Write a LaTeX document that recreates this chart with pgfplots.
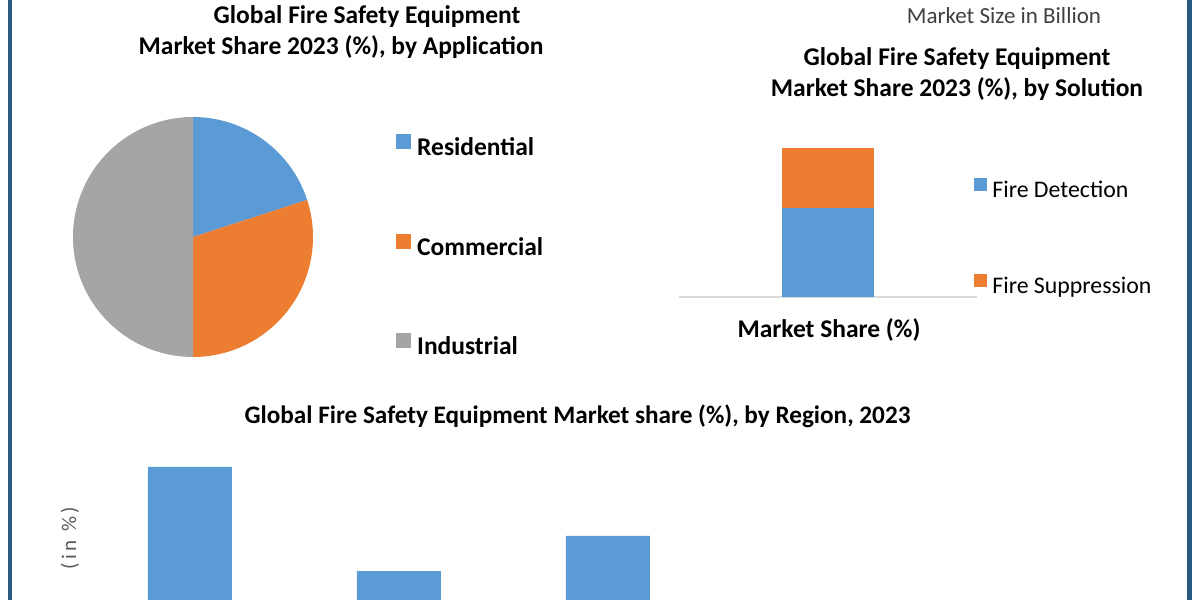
\documentclass[border=0pt]{standalone}
\usepackage{fontspec}
\setmainfont{Carlito}
\usepackage{pgfplots}
\pgfplotsset{compat=1.18}
\usepackage{pgfplotstable}
\definecolor{cblue}{HTML}{5B9BD5}
\definecolor{corange}{HTML}{ED7D31}
\definecolor{cgray}{HTML}{A5A5A5}
\definecolor{cborder}{HTML}{2A5A82}

% Region shares (%)
\pgfplotstableread{
x val
0 41.4
1 16.5
2 24.9
3 8.1
4 9.1
}\regiontable

\newcommand{\tfont}{\fontsize{12.75}{15}\selectfont\bfseries}

\begin{document}
\begin{tikzpicture}[x=1pt,y=1pt]
\path[use as bounding box] (0,0) rectangle (600,300);
\clip (0,0) rectangle (600,300);
\fill[white] (0,0) rectangle (600,300);
\fill[cborder] (4,0) rectangle (6,300);
\fill[cborder] (593.5,0) rectangle (596,300);

% ---------- Pie: by Application ----------
\begin{axis}[at={(96.5pt,181.5pt)}, anchor=center, scale only axis,
  width=120pt, height=120pt, hide axis,
  xmin=-1, xmax=1, ymin=-1, ymax=1, clip=false,
  legend cell align=left,
  legend style={at={(1.3458,0.456)}, anchor=west, draw=none, fill=none,
    font=\tfont, inner sep=0pt, row sep=36pt, column sep=3pt,
    nodes={inner sep=0pt, text height=9pt, text depth=3pt}},
  legend image code/.code={\fill[#1] (0pt,0.5pt) rectangle (7pt,7.5pt);}]
\fill[cblue]   (axis cs:0,0) -- ++(90:60pt) arc[start angle=90, delta angle=-3.6*20, radius=60pt] -- cycle;
\fill[corange] (axis cs:0,0) -- ++(90-3.6*20:60pt) arc[start angle=90-3.6*20, delta angle=-3.6*30, radius=60pt] -- cycle;
\fill[cgray]   (axis cs:0,0) -- ++(90-3.6*50:60pt) arc[start angle=90-3.6*50, delta angle=-3.6*50, radius=60pt] -- cycle;
\addlegendimage{cblue}\addlegendentry{Residential}
\addlegendimage{corange}\addlegendentry{Commercial}
\addlegendimage{cgray}\addlegendentry{Industrial}
\end{axis}

% ---------- Stacked bar: by Solution ----------
\begin{axis}[at={(339.5pt,151.5pt)}, anchor=south west, scale only axis,
  width=149pt, height=74.5pt, xmin=-1, xmax=1, ymin=0, ymax=100,
  ybar stacked, bar width=46pt,
  axis x line=bottom, axis y line=none,
  axis line style={-}, x axis line style={draw=black!15, line width=0.6pt},
  xtick=\empty, ytick=\empty, clip=false,
  legend cell align=left,
  legend style={at={(0.9899,0.3926)}, anchor=west, draw=none, fill=none,
    font=\fontsize{11.9}{14}\selectfont, inner sep=0pt, row sep=35.5pt, column sep=2.5pt,
    nodes={inner sep=0pt, text height=9pt, text depth=3pt}},
  legend image code/.code={\fill[#1] (0pt,0pt) rectangle (6.5pt,6.5pt);}]
\addplot[fill=cblue, draw=none] coordinates {(0,60)};
\addplot[fill=corange, draw=none] coordinates {(0,40)};
\legend{Fire Detection, Fire Suppression}
\end{axis}

% ---------- Bars: by Region ----------
\begin{axis}[at={(0pt,-20pt)}, anchor=south west, scale only axis,
  width=600pt, height=104.5pt, xmin=-0.909, xmax=4.833, ymin=0, ymax=50,
  ybar, bar width=42pt, hide axis]
\addplot[fill=cblue, draw=none] table[x=x, y=val] {\regiontable};
\end{axis}

% ---------- Texts ----------
\node[font=\tfont, anchor=base] at (183.5,288.25) {Global Fire Safety Equipment};
\node[font=\tfont, anchor=base] at (170.5,272.5) {Market Share 2023 (\%), by Application};
\node[font=\fontsize{11.5}{13}\selectfont, text=black!75, anchor=base] at (502,288) {Market Size in Billion};
\node[font=\tfont, anchor=base] at (478.5,267) {Global Fire Safety Equipment};
\node[font=\tfont, anchor=base] at (478.5,251.5) {Market Share 2023 (\%), by Solution};
\node[font=\tfont, anchor=base] at (414.5,131) {Market Share (\%)};
\node[font=\fontsize{12.6}{15}\selectfont\bfseries, anchor=base] at (288.75,88) {Global Fire Safety Equipment Market share (\%), by Region, 2023};
\node[font=\fontsize{10.5}{12}\selectfont, text=black!65, rotate=90] at (35,31) {(\,i\,n\, \%\,)};
\end{tikzpicture}
\end{document}
